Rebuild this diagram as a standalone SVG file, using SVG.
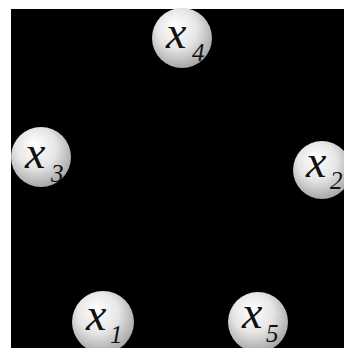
<svg xmlns="http://www.w3.org/2000/svg" width="344" height="348" viewBox="0 0 344 348">
<style>
.n{fill:url(#ball);}
.v{font-family:"Liberation Serif","Times New Roman",serif;font-style:italic;fill:#111;}
.m{font-size:46px;}
.s{font-size:25px;}
</style>
<defs>
<radialGradient id="ball" cx="0.45" cy="0.4" r="0.6" fx="0.38" fy="0.28">
<stop offset="0" stop-color="#ffffff"/>
<stop offset="0.55" stop-color="#e6e6e6"/>
<stop offset="1" stop-color="#a8a8a8"/>
</radialGradient>
</defs>
<rect x="0" y="0" width="344" height="348" fill="#fff"/>
<rect x="11" y="9" width="333" height="339" fill="#000"/>
<g id="x4"><circle class="n" cx="182" cy="38" r="30"/><text class="v m" x="166" y="48">x</text><text class="v s" x="192" y="61">4</text></g>
<g id="x3"><circle class="n" cx="41" cy="157" r="30"/><text class="v m" x="25" y="168">x</text><text class="v s" x="51" y="182">3</text></g>
<g id="x2"><circle class="n" cx="322" cy="170" r="29"/><text class="v m" x="306" y="177">x</text><text class="v s" x="330" y="189">2</text></g>
<g id="x1"><circle class="n" cx="103" cy="322" r="31"/><text class="v m" x="86" y="330">x</text><text class="v s" x="110" y="343">1</text></g>
<g id="x5"><circle class="n" cx="258" cy="322" r="30"/><text class="v m" x="242" y="328">x</text><text class="v s" x="266" y="342">5</text></g>
<g id="connectors"></g>
</svg>
